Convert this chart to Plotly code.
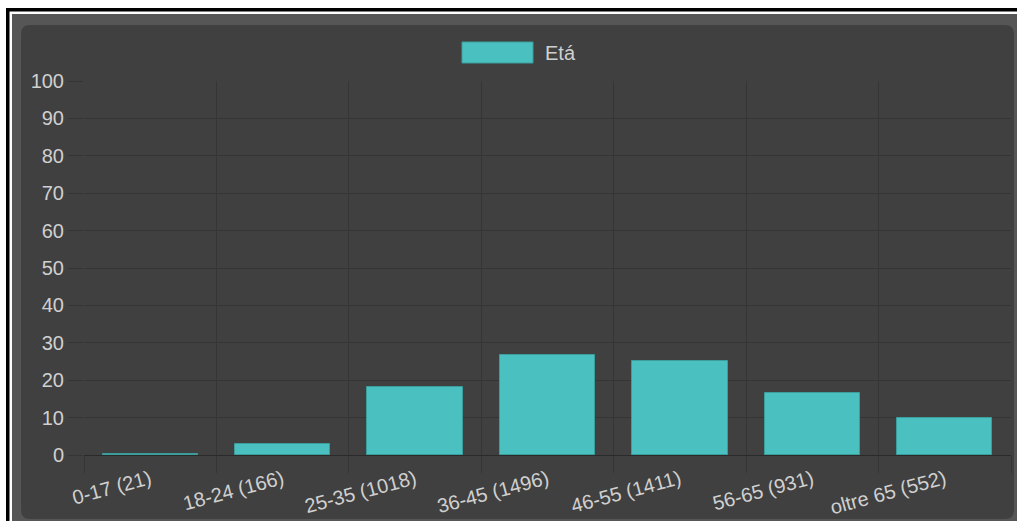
import plotly.graph_objects as go

# Age groups with respondent counts, and the share of each group (%)
categories = ["0-17 (21)", "18-24 (166)", "25-35 (1018)", "36-45 (1496)",
              "46-55 (1411)", "56-65 (931)", "oltre 65 (552)"]
shares = [0.38, 2.97, 18.19, 26.74, 25.22, 16.64, 9.87]
series_name = "Etá"
y_ticks = [0, 10, 20, 30, 40, 50, 60, 70, 80, 90, 100]

W, H = 1017, 521
ML, MR, MT, MB = 84, 6, 81, 66
PW, PH = W - ML - MR, H - MT - MB

TEAL = "#4bc0c0"
TEAL_EDGE = "#3c9d9d"
PANEL = "#404040"
FRAME = "#565656"
GRID = "#353535"
TEXT = "#d0d0d0"
FONT = "Liberation Sans, Arial, sans-serif"


def px(x):
    return (x - ML) / PW


def py(y):
    return (H - MB - y) / PH


positions = list(range(len(categories)))
bounds = [p - 0.5 for p in positions] + [positions[-1] + 0.5]

fig = go.Figure(go.Bar(
    x=positions, y=shares, name=series_name, width=0.72,
    marker=dict(color=TEAL, line=dict(color=TEAL_EDGE, width=1)),
    showlegend=False,
))


def rounded_rect(x0, y0, x1, y1, r):
    return (f"M {px(x0 + r)},{py(y0)} L {px(x1 - r)},{py(y0)} "
            f"Q {px(x1)},{py(y0)} {px(x1)},{py(y0 + r)} "
            f"L {px(x1)},{py(y1 - r)} Q {px(x1)},{py(y1)} {px(x1 - r)},{py(y1)} "
            f"L {px(x0 + r)},{py(y1)} Q {px(x0)},{py(y1)} {px(x0)},{py(y1 - r)} "
            f"L {px(x0)},{py(y0 + r)} Q {px(x0)},{py(y0)} {px(x0 + r)},{py(y0)} Z")


shapes = [
    # outer frame lines
    dict(type="rect", xref="paper", yref="paper", layer="below",
         x0=px(6), x1=px(1017), y0=py(8), y1=py(11.5),
         fillcolor="#000000", line=dict(width=0)),
    dict(type="rect", xref="paper", yref="paper", layer="below",
         x0=px(6), x1=px(9.5), y0=py(8), y1=py(521),
         fillcolor="#000000", line=dict(width=0)),
    # card background
    dict(type="rect", xref="paper", yref="paper", layer="below",
         x0=px(12), x1=px(1017), y0=py(14), y1=py(521),
         fillcolor=FRAME, line=dict(width=0)),
    dict(type="path", xref="paper", yref="paper", layer="below",
         path=rounded_rect(21, 25, 1014, 519, 9),
         fillcolor=PANEL, line=dict(width=0)),
    # legend swatch
    dict(type="rect", xref="paper", yref="paper",
         x0=px(462), x1=px(533), y0=py(42), y1=py(63),
         fillcolor=TEAL, line=dict(color=TEAL_EDGE, width=1)),
]

annotations = [
    dict(text=series_name, xref="paper", yref="paper",
         x=px(543), y=py(52.5), xanchor="left", yanchor="middle",
         showarrow=False, font=dict(family=FONT, size=20, color=TEXT)),
]

fig.update_layout(
    width=W, height=H,
    margin=dict(l=ML, r=MR, t=MT, b=MB, pad=0, autoexpand=False),
    paper_bgcolor="#ffffff",
    plot_bgcolor="rgba(0,0,0,0)",
    shapes=shapes,
    annotations=annotations,
    bargap=0,
    font=dict(family=FONT, size=20, color=TEXT),
    xaxis=dict(
        range=[-0.5, len(categories) - 0.5],
        tickmode="array", tickvals=positions, ticktext=categories,
        tickangle=-15, ticks="outside", ticklen=4,
        tickcolor="rgba(0,0,0,0)",
        showgrid=False, zeroline=False, showline=False,
        tickfont=dict(family=FONT, size=20, color=TEXT),
        minor=dict(tickmode="array", tickvals=bounds, ticks="outside",
                   ticklen=17, tickcolor=GRID, tickwidth=1,
                   showgrid=True, gridcolor=GRID, gridwidth=1),
        automargin=False,
        fixedrange=True,
    ),
    yaxis=dict(
        range=[0, 100], tickmode="array", tickvals=y_ticks,
        ticks="outside", ticklen=15, tickcolor=GRID, tickwidth=1,
        ticklabelstandoff=0,
        showgrid=True, gridcolor=GRID, gridwidth=1,
        zeroline=True, zerolinecolor="#2a2a2a", zerolinewidth=1,
        showline=False,
        tickfont=dict(family=FONT, size=20, color=TEXT),
        automargin=False,
        fixedrange=True,
    ),
)

fig.write_html("out.html", config={"displayModeBar": False})
